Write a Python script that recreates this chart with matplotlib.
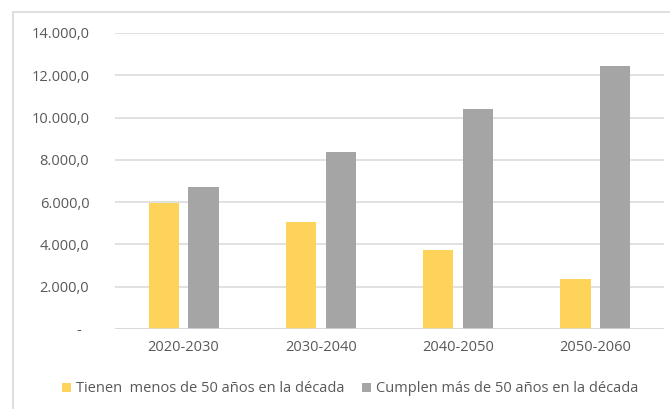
import matplotlib
matplotlib.use("Agg")
import matplotlib.pyplot as plt
from matplotlib.patches import Rectangle, Patch
import numpy as np

categories = ["2020-2030", "2030-2040", "2040-2050", "2050-2060"]
menos_50 = [5980, 5050, 3720, 2350]
mas_50 = [6730, 8370, 10420, 12450]
series_labels = ["Tienen  menos de 50 años en la década",
                 "Cumplen más de 50 años en la década"]
yticks = [0, 2000, 4000, 6000, 8000, 10000, 12000, 14000]

YELLOW = "#fdd35a"
GRAY = "#a5a5a5"
TXT = "#595959"
GRID = "#d9d9d9"

plt.rcParams['font.family'] = ['Open Sans', 'DejaVu Sans']

W, H = 670, 409
fig = plt.figure(figsize=(W / 100, H / 100), dpi=100)
fig.patch.set_facecolor("white")

# chart border
fig.patches.append(Rectangle((13 / W, -0.1), 1.2, 1 - 12.5 / H + 0.1,
                             transform=fig.transFigure, fill=False,
                             edgecolor=GRID, linewidth=1.2, zorder=0))

ax = fig.add_axes([115 / W, 1 - 329 / H, (664 - 115) / W, (329 - 33) / H])
x = np.arange(len(categories))
bw = 0.221
off = 0.145
ax.bar(x - off, menos_50, bw, color=YELLOW, zorder=3)
ax.bar(x + off, mas_50, bw, color=GRAY, zorder=3)

ax.set_xlim(-0.5, len(categories) - 0.5)
ax.set_ylim(0, 14000)
ax.set_yticks(yticks)

def fmt(v):
    if v == 0:
        return "-  "
    s = f"{v:,.1f}"
    return s.replace(",", "X").replace(".", ",").replace("X", ".")

ax.set_yticklabels([fmt(v) for v in yticks])
ax.set_xticks(x)
ax.set_xticklabels(categories)
ax.tick_params(axis="y", length=0, pad=18.5, labelsize=10.5, labelcolor=TXT)
ax.tick_params(axis="x", length=0, pad=8, labelsize=10.5, labelcolor=TXT)
ax.grid(axis="y", color=GRID, linewidth=1.1, zorder=0)
for s in ax.spines.values():
    s.set_visible(False)
ax.axhline(0, color=GRID, linewidth=1.1, zorder=4)

handles = [Patch(facecolor=YELLOW, edgecolor="none"),
           Patch(facecolor=GRAY, edgecolor="none")]
fig.legend(handles, series_labels, loc="center", bbox_to_anchor=(350 / W, 1 - 389 / H),
           ncol=2, frameon=False, fontsize=10.5, labelcolor=TXT,
           handlelength=0.65, handleheight=0.65, handletextpad=0.3,
           columnspacing=1.2)

fig.savefig("out.png", dpi=100, facecolor="white")
